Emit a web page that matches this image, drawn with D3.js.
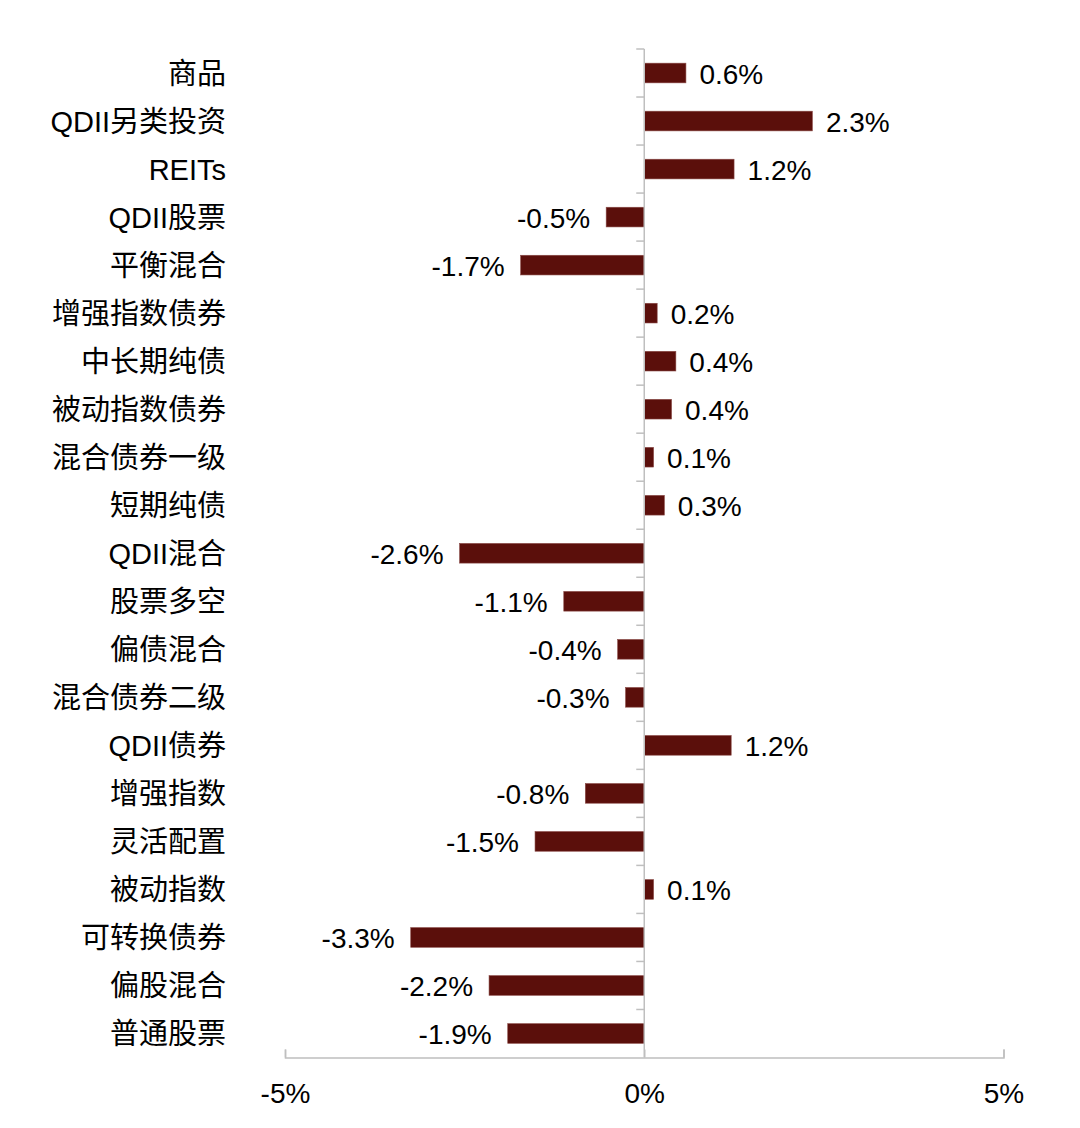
<!DOCTYPE html>
<html>
<head>
<meta charset="utf-8">
<script src="https://cdn.jsdelivr.net/npm/d3@7"></script>
<style>
  html, body { margin: 0; padding: 0; background: #fff; }
  svg { display: block; }
  text { font-family: "Liberation Sans", Arial, "Noto Sans CJK SC", sans-serif; fill: #000; }
</style>
</head>
<body>
<svg id="chart" width="1080" height="1128"></svg>
<script>
const categories = ["商品","QDII另类投资","REITs","QDII股票","平衡混合","增强指数债券","中长期纯债","被动指数债券","混合债券一级","短期纯债","QDII混合","股票多空","偏债混合","混合债券二级","QDII债券","增强指数","灵活配置","被动指数","可转换债券","偏股混合","普通股票"];
const values = [0.58, 2.34, 1.25, -0.53, -1.72, 0.18, 0.44, 0.38, 0.13, 0.28, -2.57, -1.12, -0.37, -0.26, 1.21, -0.82, -1.52, 0.13, -3.25, -2.16, -1.90];
const labels = ["0.6%","2.3%","1.2%","-0.5%","-1.7%","0.2%","0.4%","0.4%","0.1%","0.3%","-2.6%","-1.1%","-0.4%","-0.3%","1.2%","-0.8%","-1.5%","0.1%","-3.3%","-2.2%","-1.9%"];
const xTicks = [-5, 0, 5];
const xTickLabels = ["-5%", "0%", "5%"];

const svg = d3.select("#chart");
const plotTop = 49, plotBottom = 1057.5;
const x = d3.scaleLinear().domain([-5, 5]).range([285, 1003.5]);
const y = d3.scaleBand().domain(categories).range([plotTop, plotBottom]).paddingInner(0.59).paddingOuter(0.295);
const yb = d3.scaleBand().domain(categories).range([plotTop, plotBottom]).padding(0);

const axisColor = "#bfbfbf";
const fontSize = 28;
const catFontSize = 29;

// bars
svg.append("g").selectAll("rect").data(categories).join("rect")
  .attr("x", (d, i) => x(Math.min(0, values[i])))
  .attr("width", (d, i) => Math.abs(x(values[i]) - x(0)))
  .attr("y", d => y(d))
  .attr("height", y.bandwidth())
  .attr("fill", "#5b0f0b")
  .attr("stroke", "#8a4a46")
  .attr("stroke-width", 0.6);

// x axis
const xAxis = d3.axisBottom(x).tickValues(xTicks)
  .tickFormat((d, i) => xTickLabels[i])
  .tickSizeInner(-8).tickSizeOuter(-8).tickPadding(25.5);
const gx = svg.append("g").attr("transform", `translate(0,${plotBottom})`).call(xAxis);
gx.select(".domain").attr("stroke", axisColor).attr("stroke-width", 1.5);
gx.selectAll(".tick line").attr("stroke", axisColor).attr("stroke-width", 1.5);
gx.selectAll(".tick text").attr("font-size", fontSize)
  .attr("font-family", '"Liberation Sans", Arial, sans-serif').attr("fill", "#000");

// vertical axis at zero
const x0 = x(0);
svg.append("line").attr("x1", x0).attr("x2", x0).attr("y1", plotTop).attr("y2", plotBottom)
  .attr("stroke", axisColor).attr("stroke-width", 1.5);
const boundaries = categories.map(c => yb(c));
svg.append("g").selectAll("line").data(boundaries).join("line")
  .attr("x1", x0 - 8).attr("x2", x0)
  .attr("y1", d => d).attr("y2", d => d)
  .attr("stroke", axisColor).attr("stroke-width", 1.5);

// category labels
svg.append("g").selectAll("text").data(categories).join("text")
  .attr("x", 226)
  .attr("y", d => y(d) + y.bandwidth() / 2 + 10.5)
  .attr("text-anchor", "end")
  .attr("font-size", catFontSize)
  .text(d => d);

// value labels
svg.append("g").selectAll("text").data(categories).join("text")
  .attr("x", (d, i) => values[i] >= 0 ? x(values[i]) + 13.5 : x(values[i]) - 16)
  .attr("y", d => y(d) + y.bandwidth() / 2 + 11)
  .attr("text-anchor", (d, i) => values[i] >= 0 ? "start" : "end")
  .attr("font-size", fontSize)
  .text((d, i) => labels[i]);
</script>
</body>
</html>
